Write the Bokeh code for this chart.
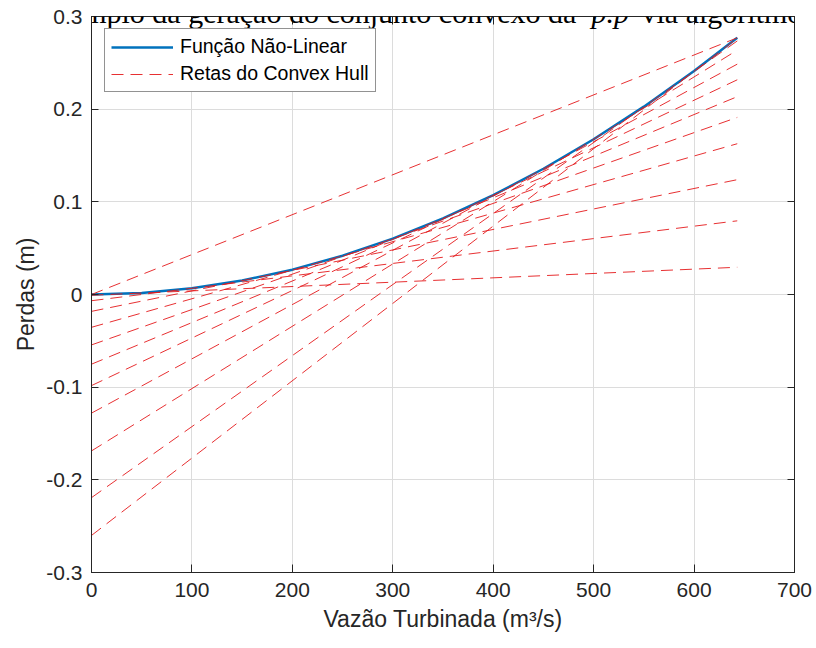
from bokeh.plotting import figure
from bokeh.models import (Range1d, LinearAxis, FixedTicker, Label, Legend,
                          LegendItem, ColumnDataSource)
from bokeh.embed import file_html
from bokeh.resources import INLINE

# Non-linear loss curve: head loss (m) versus turbined flow (m3/s)
vazao = [0, 50, 100, 150, 200, 250, 300, 350, 400, 450, 500, 550, 600, 643]
perdas = [0.0, 0.0017, 0.0067, 0.0151, 0.0268, 0.0419, 0.0603, 0.0821,
          0.1072, 0.1357, 0.1675, 0.2027, 0.2412, 0.2770]

# Convex hull lines, each given by its loss at zero flow and at maximum flow
reta_vazao_ini = 0
reta_vazao_fim = 643
reta_perda_ini = [0.0, -0.0008, -0.0067, -0.0182, -0.0354, -0.0544, -0.0752,
                  -0.0983, -0.1280, -0.1688, -0.2192, -0.2600]
reta_perda_fim = [0.2770, 0.0294, 0.0795, 0.1239, 0.1627, 0.1911, 0.2135,
                  0.2317, 0.2486, 0.2637, 0.2736, 0.2767]

# Axis ticks and labels
x_ticks = [0, 100, 200, 300, 400, 500, 600, 700]
y_ticks = [-0.3, -0.2, -0.1, 0.0, 0.1, 0.2, 0.3]
y_tick_labels = ["-0.3", "-0.2", "-0.1", "0", "0.1", "0.2", "0.3"]

SANS = "Liberation Sans"
SERIF = "Liberation Serif"
INK = "#262626"

p = figure(width=816, height=648, output_backend="svg", toolbar_location=None,
           x_range=Range1d(0, 700), y_range=Range1d(-0.3, 0.3),
           min_border_left=91, min_border_right=22,
           min_border_top=16, min_border_bottom=76,
           background_fill_color="white", border_fill_color="white")
p.outline_line_color = INK
p.outline_line_width = 1

# grid
for g in (p.xgrid, p.ygrid):
    g.grid_line_color = "#dcdcdc"
    g.grid_line_width = 1
p.xgrid.ticker = FixedTicker(ticks=x_ticks)
p.ygrid.ticker = FixedTicker(ticks=y_ticks)

# main axes
xa = p.xaxis[0]
ya = p.yaxis[0]
xa.ticker = FixedTicker(ticks=x_ticks)
ya.ticker = FixedTicker(ticks=y_ticks)
ya.major_label_overrides = {t: s for t, s in zip(y_ticks, y_tick_labels)}
xa.axis_label = "Vazão Turbinada (m³/s)"
ya.axis_label = "Perdas (m)"
for ax, tin in ((xa, 8), (ya, 7)):
    ax.axis_line_color = INK
    ax.major_tick_line_color = INK
    ax.major_tick_in = tin
    ax.major_tick_out = 0
    ax.minor_tick_line_color = None
    ax.major_label_text_font = SANS
    ax.major_label_text_font_size = "21px"
    ax.major_label_text_color = INK
    ax.axis_label_text_font = SANS
    ax.axis_label_text_font_size = "23px"
    ax.axis_label_text_font_style = "normal"
    ax.axis_label_text_color = INK
xa.major_label_standoff = 10
xa.axis_label_standoff = 6
ya.major_label_standoff = 9
ya.axis_label_standoff = 4

# box ticks on the top and right edges (labels hidden)
def edge_axis(ticks, tick_len):
    return LinearAxis(ticker=FixedTicker(ticks=ticks), major_tick_in=tick_len,
                      major_tick_out=0, minor_tick_line_color=None,
                      major_label_text_font_size="8px",
                      major_label_text_color=None, major_label_standoff=0,
                      axis_line_color=INK, major_tick_line_color=INK)

p.add_layout(edge_axis(x_ticks, 8), "above")
p.add_layout(edge_axis(y_ticks, 7), "right")

# non-linear function
curve = p.line(vazao, perdas, line_color="#0072BD", line_width=2.5)

# convex hull lines
hull_src = ColumnDataSource(data=dict(
    xs=[[reta_vazao_ini, reta_vazao_fim] for _ in reta_perda_ini],
    ys=[[a, b] for a, b in zip(reta_perda_ini, reta_perda_fim)],
))
hull = p.multi_line("xs", "ys", source=hull_src, line_color="#E41A1C",
                    line_width=1, line_alpha=0.9, line_dash="12 7")

legend = Legend(items=[LegendItem(label="Função Não-Linear", renderers=[curve]),
                       LegendItem(label="Retas do Convex Hull", renderers=[hull])],
                location=(13, 480), orientation="vertical",
                label_text_font=SANS, label_text_font_size="19.5px",
                label_text_color="black",
                glyph_width=62, glyph_height=22, label_height=22,
                label_standoff=7, padding=6, spacing=4, margin=0,
                border_line_color=INK, border_line_width=1,
                background_fill_color="white", background_fill_alpha=1.0)
p.add_layout(legend)

# caption of the page this figure belongs to (cut at the top edge)
cap_y = 560
for txt, xo, style in (("6", -93, "normal"),
                       ("Exemplo da geração do conjunto convexo da", -55, "normal"),
                       ("p.p", 500, "italic"),
                       ("via algoritmo", 550, "normal")):
    p.add_layout(Label(x=xo, y=cap_y, x_units="screen", y_units="screen",
                       text=txt, text_font=SERIF, text_font_size="30px",
                       text_font_style=style, text_color="black",
                       text_baseline="alphabetic"))

open("out.html", "w").write(file_html(p, INLINE))
